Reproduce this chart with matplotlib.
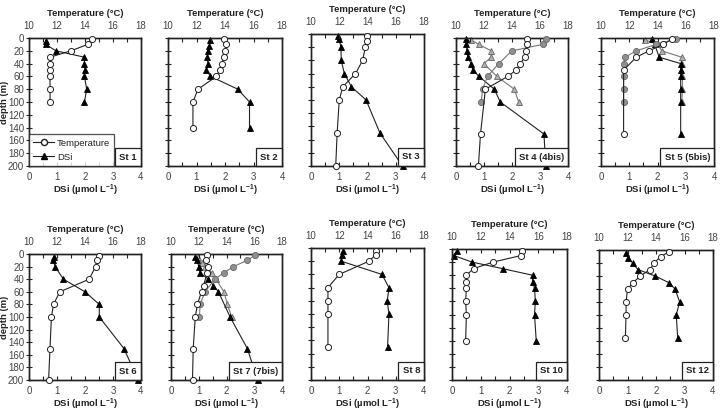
import matplotlib
matplotlib.use("Agg")
import matplotlib.pyplot as plt
from matplotlib.lines import Line2D
from matplotlib.ticker import MultipleLocator

plt.rcParams['font.family'] = ['Liberation Sans', 'DejaVu Sans']
plt.rcParams['mathtext.fontset'] = 'custom'
plt.rcParams['mathtext.rm'] = 'Liberation Sans'
plt.rcParams['mathtext.bf'] = 'Liberation Sans:bold'

# ---------------- data ----------------
st1_t_depth = [2, 10, 20, 30, 40, 50, 60, 80, 100]
st1_temp = [14.5, 14.2, 13.0, 11.5, 11.5, 11.5, 11.5, 11.5, 11.5]
st1_d_depth = [5, 10, 20, 30, 40, 50, 60, 80, 100]
st1_dsi = [0.62, 0.6, 0.96, 1.98, 1.98, 2.0, 1.98, 2.06, 1.98]

st2_t_depth = [2, 10, 20, 30, 40, 50, 60, 80, 100, 140]
st2_temp = [13.95, 14.1, 14.0, 13.9, 13.8, 13.65, 13.4, 12.1, 11.75, 11.75]
st2_d_depth = [3, 12, 20, 30, 40, 50, 60, 80, 100, 140]
st2_dsi = [1.49, 1.45, 1.42, 1.38, 1.4, 1.35, 1.49, 2.45, 2.86, 2.86]

st3_t_depth = [3, 10, 20, 40, 60, 80, 100, 150, 200]
st3_temp = [14.0, 14.0, 13.85, 13.65, 13.15, 12.25, 12.0, 11.85, 11.75]
st3_d_depth = [3, 8, 20, 40, 60, 80, 100, 150, 200]
st3_dsi = [0.97, 1.0, 1.06, 1.07, 1.18, 1.43, 1.95, 2.44, 3.24]

st4_t_depth = [2, 10, 20, 30, 40, 50, 60, 80, 150, 200]
st4_temp = [15.1, 15.05, 15.0, 14.9, 14.6, 14.3, 13.7, 12.1, 11.75, 11.6]
st4_d_depth = [2, 10, 20, 30, 40, 50, 60, 80, 100, 150, 200]
st4_dsi = [0.37, 0.37, 0.39, 0.42, 0.54, 0.6, 0.82, 1.37, 1.58, 3.14, 3.21]
st4bis_t_depth = [2, 10, 20, 40, 60, 80, 100]
st4bis_temp = [16.45, 16.2, 14.0, 13.05, 12.25, 11.9, 11.8]
st4bis_d_depth = [3, 10, 20, 30, 40, 60, 80, 100]
st4bis_dsi = [0.54, 0.81, 1.26, 1.26, 0.99, 1.46, 2.08, 2.24]

st5_t_depth = [2, 10, 20, 30, 50, 150]
st5_temp = [15.0, 14.4, 13.4, 12.5, 11.6, 11.6]
st5_d_depth = [2, 10, 30, 40, 50, 60, 80, 100, 150]
st5_dsi = [1.82, 1.9, 2.06, 2.82, 2.82, 2.82, 2.82, 2.82, 2.82]
st5bis_t_depth = [2, 10, 20, 30, 40, 60, 80, 100]
st5bis_temp = [15.3, 13.9, 12.5, 11.7, 11.6, 11.6, 11.6, 11.6]
st5bis_d_depth = [3, 10, 20, 30, 40, 60, 80, 100]
st5bis_dsi = [1.56, 2.0, 2.15, 2.86, 2.86, 2.88, 2.88, 2.86]

st6_t_depth = [3, 10, 20, 40, 60, 80, 100, 150, 200]
st6_temp = [15.0, 14.85, 14.75, 14.3, 12.2, 11.75, 11.6, 11.5, 11.4]
st6_d_depth = [5, 10, 20, 40, 60, 80, 100, 150, 200]
st6_dsi = [0.89, 0.87, 0.93, 1.23, 2.0, 2.51, 2.51, 3.39, 3.9]

st7_t_depth = [2, 10, 20, 30, 50, 60, 80, 100, 150, 200]
st7_temp = [12.6, 12.5, 12.7, 12.6, 12.35, 12.2, 11.9, 11.75, 11.6, 11.55]
st7_d_depth = [5, 10, 20, 30, 40, 50, 60, 100, 150, 200]
st7_dsi = [0.87, 0.95, 1.0, 1.05, 1.35, 1.53, 1.71, 2.13, 2.75, 3.12]
st7bis_t_depth = [2, 10, 20, 30, 40, 60, 80, 100]
st7bis_temp = [16.05, 15.5, 14.5, 13.8, 13.15, 12.45, 12.1, 12.05]
st7bis_d_depth = [5, 15, 20, 30, 40, 60, 80, 100]
st7bis_dsi = [0.97, 1.11, 1.23, 1.47, 1.62, 1.91, 2.03, 2.19]

st8_t_depth = [5, 10, 20, 40, 60, 80, 100, 150]
st8_temp = [14.6, 14.6, 14.1, 12.0, 11.2, 11.2, 11.2, 11.2]
st8_d_depth = [5, 10, 20, 40, 60, 80, 100, 150]
st8_dsi = [1.15, 1.09, 1.07, 2.51, 2.76, 2.7, 2.76, 2.71]

st10_t_depth = [3, 10, 20, 30, 40, 50, 60, 80, 100, 140]
st10_temp = [14.85, 14.8, 12.85, 11.5, 11.0, 11.0, 11.0, 10.95, 11.0, 10.95]
st10_d_depth = [3, 10, 20, 30, 40, 50, 60, 80, 100, 140]
st10_dsi = [0.17, 0.06, 0.7, 1.76, 2.8, 2.8, 2.87, 2.9, 2.87, 2.93]

st12_t_depth = [3, 10, 20, 30, 40, 50, 60, 80, 100, 135]
st12_temp = [14.9, 14.35, 13.85, 13.6, 12.9, 12.4, 12.0, 11.9, 11.9, 11.85]
st12_d_depth = [5, 12, 20, 30, 40, 50, 60, 80, 100, 135]
st12_dsi = [0.95, 1.03, 1.18, 1.36, 1.97, 2.44, 2.67, 2.83, 2.71, 2.76]

station_labels = ['St 1', 'St 2', 'St 3', 'St 4 (4bis)', 'St 5 (5bis)',
                  'St 6', 'St 7 (7bis)', 'St 8', 'St 10', 'St 12']
depth_ticks = list(range(0, 201, 20))
dsi_ticks = [0, 1, 2, 3, 4]
temp_ticks = [10, 12, 14, 16, 18]

# ---------------- layout (pixels: left, right, top, bottom) ----------------
W, H = 722, 412
boxes = [
    (29, 141, 38, 166), (168, 282, 38, 166), (311, 424, 34, 166),
    (456, 568, 38, 166), (601, 714, 38, 166),
    (29, 141, 254, 380), (171, 282, 254, 380), (311, 424, 248, 380),
    (452, 567, 249, 380), (599, 713, 250, 380),
]

panels = [
    (st1_t_depth, st1_temp, st1_d_depth, st1_dsi, None),
    (st2_t_depth, st2_temp, st2_d_depth, st2_dsi, None),
    (st3_t_depth, st3_temp, st3_d_depth, st3_dsi, None),
    (st4_t_depth, st4_temp, st4_d_depth, st4_dsi,
     (st4bis_t_depth, st4bis_temp, st4bis_d_depth, st4bis_dsi)),
    (st5_t_depth, st5_temp, st5_d_depth, st5_dsi,
     (st5bis_t_depth, st5bis_temp, st5bis_d_depth, st5bis_dsi)),
    (st6_t_depth, st6_temp, st6_d_depth, st6_dsi, None),
    (st7_t_depth, st7_temp, st7_d_depth, st7_dsi,
     (st7bis_t_depth, st7bis_temp, st7bis_d_depth, st7bis_dsi)),
    (st8_t_depth, st8_temp, st8_d_depth, st8_dsi, None),
    (st10_t_depth, st10_temp, st10_d_depth, st10_dsi, None),
    (st12_t_depth, st12_temp, st12_d_depth, st12_dsi, None),
]

fig = plt.figure(figsize=(W / 100, H / 100), dpi=100)
fig.patch.set_facecolor('white')

tick_col = '#444444'
lab_col = '#222222'
ms = 4.4
lw = 0.8

for i, (box, data, lab) in enumerate(zip(boxes, panels, station_labels)):
    l, r, t, b = box
    ax = fig.add_axes([l / W, 1 - b / H, (r - l) / W, (b - t) / H])
    ax2 = ax.twiny()
    td, tv, dd, dv, bis = data

    if bis is not None:
        btd, btv, bdd, bdv = bis
        ax.plot(bdv, bdd, '-', color='#777777', lw=lw, marker='^', ms=ms,
                mfc='#b0b0b0', mec='#666666', mew=0.6, clip_on=False, zorder=3)
        ax2.plot(btv, btd, '-', color='#777777', lw=lw, marker='o', ms=ms,
                 mfc='#909090', mec='#666666', mew=0.6, clip_on=False, zorder=3)
    ax.plot(dv, dd, '-', color='#222222', lw=lw, marker='^', ms=ms,
            mfc='black', mec='black', mew=0.6, clip_on=False, zorder=4)
    ax2.plot(tv, td, '-', color='#222222', lw=lw, marker='o', ms=ms,
             mfc='white', mec='#222222', mew=0.7, clip_on=False, zorder=4)

    ax.set_xlim(0, 4)
    ax2.set_xlim(10, 18)
    ax.set_ylim(200, 0)
    ax.set_xticks(dsi_ticks)
    ax.xaxis.set_minor_locator(MultipleLocator(0.5))
    ax2.set_xticks(temp_ticks)
    ax2.xaxis.set_minor_locator(MultipleLocator(1))
    ax.set_yticks(depth_ticks)

    for a in (ax, ax2):
        for sp in a.spines.values():
            sp.set_linewidth(1.0)
            sp.set_color('#222222')
    ax.tick_params(axis='x', which='both', direction='in', length=3,
                   width=0.8, labelsize=7, colors=tick_col, pad=4)
    ax2.tick_params(axis='x', which='both', direction='in', length=3,
                    width=0.8, labelsize=7, colors=tick_col, pad=5)
    ax.tick_params(axis='y', which='both', direction='inout', length=4,
                   width=0.8, labelsize=7, colors=tick_col, pad=1.5)
    for a in (ax, ax2):
        a.tick_params(axis='x', which='both', color='#222222')
    ax.tick_params(axis='y', color='#222222')

    if i in (0, 5):
        ax.set_ylabel('depth (m)', fontsize=6.8, fontweight='bold',
                      color=lab_col)
        ax.yaxis.set_label_coords(-0.175, 0.5)
    else:
        ax.set_yticklabels([])

    ax.set_xlabel(r'DSi (µmol L$^{\mathbf{-1}}$)', fontsize=6.8,
                  fontweight='bold', color=lab_col, labelpad=1)
    ax2.set_xlabel('Temperature (°C)', fontsize=6.8, fontweight='bold',
                   color=lab_col, labelpad=4)

    ax.text(0.965, 0.035, lab, transform=ax.transAxes, ha='right', va='bottom',
            fontsize=6.8, fontweight='bold', color=lab_col, zorder=10,
            bbox=dict(boxstyle='square,pad=0.45', fc='white', ec='#222222',
                      lw=0.9))

    if i == 0:
        handles = [
            Line2D([], [], color='#222222', lw=lw, marker='o', ms=ms,
                   mfc='white', mec='#222222'),
            Line2D([], [], color='#222222', lw=lw, marker='^', ms=ms,
                   mfc='black', mec='black'),
        ]
        leg = ax2.legend(handles, ['Temperature', 'DSi'], loc='lower left',
                         fontsize=6.8, frameon=True, fancybox=False,
                         borderaxespad=0, handlelength=2.2, handletextpad=0.3,
                         borderpad=0.45, labelspacing=0.55)
        leg.get_frame().set_edgecolor('#222222')
        leg.get_frame().set_linewidth(0.9)
        for txt in leg.get_texts():
            txt.set_color(lab_col)

fig.savefig('out.png', dpi=100, facecolor='white')
